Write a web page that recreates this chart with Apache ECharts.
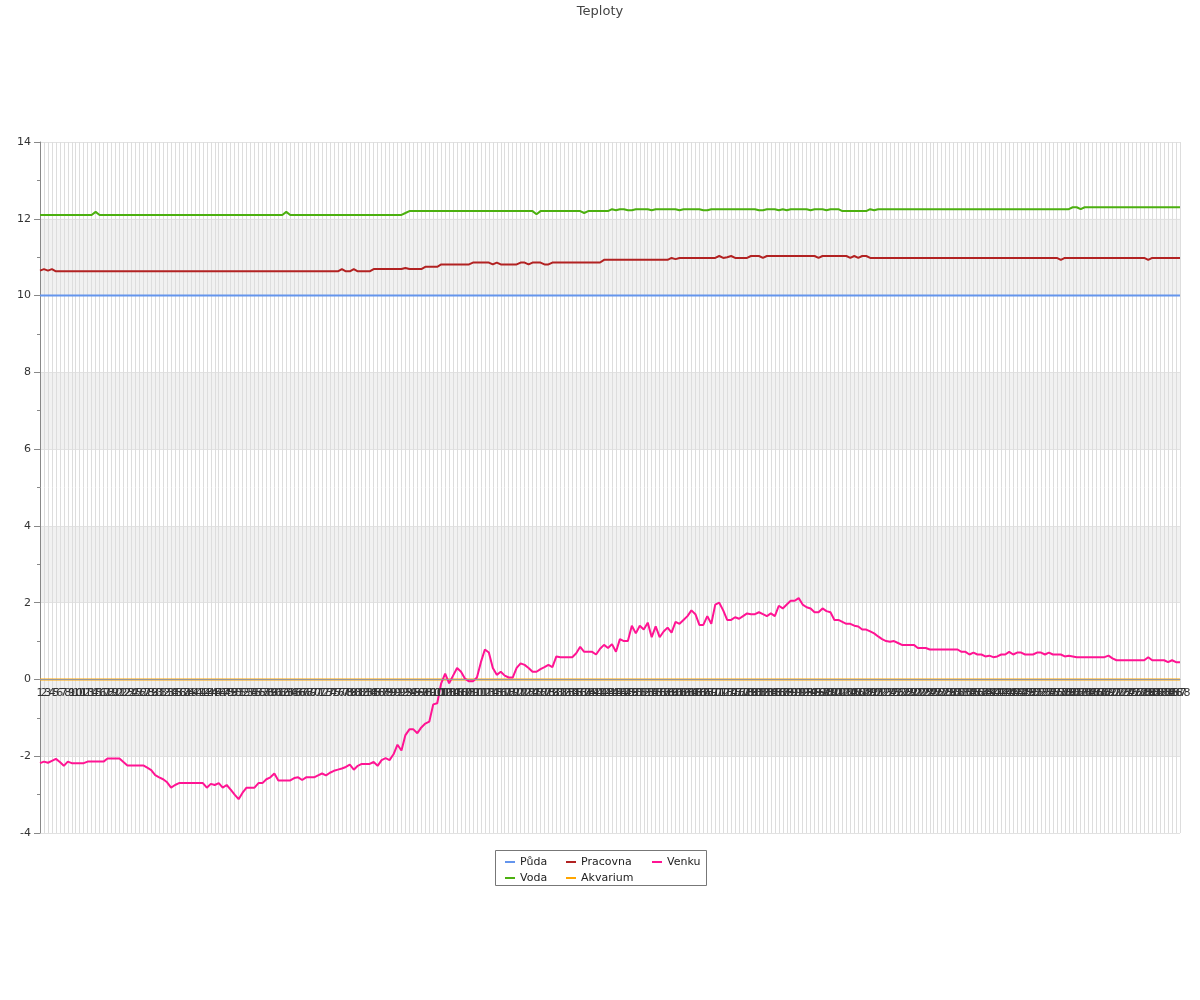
<!DOCTYPE html>
<html>
<head>
<meta charset="utf-8">
<script src="https://cdn.jsdelivr.net/npm/echarts@6/dist/echarts.min.js"></script>
<style>html,body{margin:0;padding:0;background:#fff}#c{width:1200px;height:1000px}</style>
</head>
<body>
<div id="c"></div>
<script>
const title = 'Teploty';
const seriesNames = ['Půda', 'Voda', 'Pracovna', 'Akvarium', 'Venku'];
const categories = [];
for (let k = 1; k <= 288; k++) categories.push(String(k));

const puda = [
10,10,10,10,10,10,10,10,10,10, 10,10,10,10,10,10,10,10,10,10,
10,10,10,10,10,10,10,10,10,10, 10,10,10,10,10,10,10,10,10,10,
10,10,10,10,10,10,10,10,10,10, 10,10,10,10,10,10,10,10,10,10,
10,10,10,10,10,10,10,10,10,10, 10,10,10,10,10,10,10,10,10,10,
10,10,10,10,10,10,10,10,10,10, 10,10,10,10,10,10,10,10,10,10,
10,10,10,10,10,10,10,10,10,10, 10,10,10,10,10,10,10,10,10,10,
10,10,10,10,10,10,10,10,10,10, 10,10,10,10,10,10,10,10,10,10,
10,10,10,10,10,10,10,10,10,10, 10,10,10,10,10,10,10,10,10,10,
10,10,10,10,10,10,10,10,10,10, 10,10,10,10,10,10,10,10,10,10,
10,10,10,10,10,10,10,10,10,10, 10,10,10,10,10,10,10,10,10,10,
10,10,10,10,10,10,10,10,10,10, 10,10,10,10,10,10,10,10,10,10,
10,10,10,10,10,10,10,10,10,10, 10,10,10,10,10,10,10,10,10,10,
10,10,10,10,10,10,10,10,10,10, 10,10,10,10,10,10,10,10,10,10,
10,10,10,10,10,10,10,10,10,10, 10,10,10,10,10,10,10,10,10,10,
10,10,10,10,10,10,10,10
];

const voda = [
12.1,12.1,12.1,12.1,12.1,12.1,12.1,12.1,12.1,12.1,
12.1,12.1,12.1,12.1,12.18,12.1,12.1,12.1,12.1,12.1,
12.1,12.1,12.1,12.1,12.1,12.1,12.1,12.1,12.1,12.1,
12.1,12.1,12.1,12.1,12.1,12.1,12.1,12.1,12.1,12.1,
12.1,12.1,12.1,12.1,12.1,12.1,12.1,12.1,12.1,12.1,
12.1,12.1,12.1,12.1,12.1,12.1,12.1,12.1,12.1,12.1,
12.1,12.1,12.18,12.1,12.1,12.1,12.1,12.1,12.1,12.1,
12.1,12.1,12.1,12.1,12.1,12.1,12.1,12.1,12.1,12.1,
12.1,12.1,12.1,12.1,12.1,12.1,12.1,12.1,12.1,12.1,
12.1,12.1,12.15,12.2,12.2,12.2,12.2,12.2,12.2,12.2,
12.2,12.2,12.2,12.2,12.2,12.2,12.2,12.2,12.2,12.2,
12.2,12.2,12.2,12.2,12.2,12.2,12.2,12.2,12.2,12.2,
12.2,12.2,12.2,12.2,12.2,12.12,12.2,12.2,12.2,12.2,
12.2,12.2,12.2,12.2,12.2,12.2,12.2,12.15,12.2,12.2,
12.2,12.2,12.2,12.2,12.25,12.22,12.25,12.25,12.22,12.22,
12.25,12.25,12.25,12.25,12.22,12.25,12.25,12.25,12.25,12.25,
12.25,12.22,12.25,12.25,12.25,12.25,12.25,12.22,12.22,12.25,
12.25,12.25,12.25,12.25,12.25,12.25,12.25,12.25,12.25,12.25,
12.25,12.22,12.22,12.25,12.25,12.25,12.22,12.25,12.22,12.25,
12.25,12.25,12.25,12.25,12.22,12.25,12.25,12.25,12.22,12.25,
12.25,12.25,12.2,12.2,12.2,12.2,12.2,12.2,12.2,12.25,
12.22,12.25,12.25,12.25,12.25,12.25,12.25,12.25,12.25,12.25,
12.25,12.25,12.25,12.25,12.25,12.25,12.25,12.25,12.25,12.25,
12.25,12.25,12.25,12.25,12.25,12.25,12.25,12.25,12.25,12.25,
12.25,12.25,12.25,12.25,12.25,12.25,12.25,12.25,12.25,12.25,
12.25,12.25,12.25,12.25,12.25,12.25,12.25,12.25,12.25,12.25,
12.3,12.3,12.25,12.3,12.3,12.3,12.3,12.3,12.3,12.3,
12.3,12.3,12.3,12.3,12.3,12.3,12.3,12.3,12.3,12.3,
12.3,12.3,12.3,12.3,12.3,12.3,12.3,12.3
];

const pracovna = [
10.65,10.69,10.65,10.69,10.63,10.63,10.63,10.63,10.63,10.63,
10.63,10.63,10.63,10.63,10.63,10.63,10.63,10.63,10.63,10.63,
10.63,10.63,10.63,10.63,10.63,10.63,10.63,10.63,10.63,10.63,
10.63,10.63,10.63,10.63,10.63,10.63,10.63,10.63,10.63,10.63,
10.63,10.63,10.63,10.63,10.63,10.63,10.63,10.63,10.63,10.63,
10.63,10.63,10.63,10.63,10.63,10.63,10.63,10.63,10.63,10.63,
10.63,10.63,10.63,10.63,10.63,10.63,10.63,10.63,10.63,10.63,
10.63,10.63,10.63,10.63,10.63,10.63,10.69,10.63,10.63,10.69,
10.63,10.63,10.63,10.63,10.69,10.69,10.69,10.69,10.69,10.69,
10.69,10.69,10.72,10.69,10.69,10.69,10.69,10.75,10.75,10.75,
10.75,10.81,10.81,10.81,10.81,10.81,10.81,10.81,10.81,10.86,
10.86,10.86,10.86,10.86,10.81,10.86,10.81,10.81,10.81,10.81,
10.81,10.86,10.86,10.81,10.86,10.86,10.86,10.81,10.81,10.86,
10.86,10.86,10.86,10.86,10.86,10.86,10.86,10.86,10.86,10.86,
10.86,10.86,10.93,10.93,10.93,10.93,10.93,10.93,10.93,10.93,
10.93,10.93,10.93,10.93,10.93,10.93,10.93,10.93,10.93,10.98,
10.95,10.98,10.98,10.98,10.98,10.98,10.98,10.98,10.98,10.98,
10.98,11.03,10.98,11.0,11.03,10.98,10.98,10.98,10.98,11.03,
11.03,11.03,10.98,11.03,11.03,11.03,11.03,11.03,11.03,11.03,
11.03,11.03,11.03,11.03,11.03,11.03,10.98,11.03,11.03,11.03,
11.03,11.03,11.03,11.03,10.98,11.03,10.98,11.03,11.03,10.98,
10.98,10.98,10.98,10.98,10.98,10.98,10.98,10.98,10.98,10.98,
10.98,10.98,10.98,10.98,10.98,10.98,10.98,10.98,10.98,10.98,
10.98,10.98,10.98,10.98,10.98,10.98,10.98,10.98,10.98,10.98,
10.98,10.98,10.98,10.98,10.98,10.98,10.98,10.98,10.98,10.98,
10.98,10.98,10.98,10.98,10.98,10.98,10.98,10.93,10.98,10.98,
10.98,10.98,10.98,10.98,10.98,10.98,10.98,10.98,10.98,10.98,
10.98,10.98,10.98,10.98,10.98,10.98,10.98,10.98,10.98,10.93,
10.98,10.98,10.98,10.98,10.98,10.98,10.98,10.98
];

const akvarium = [
0,0,0,0,0,0,0,0,0,0, 0,0,0,0,0,0,0,0,0,0, 0,0,0,0,0,0,0,0,0,0,
0,0,0,0,0,0,0,0,0,0, 0,0,0,0,0,0,0,0,0,0, 0,0,0,0,0,0,0,0,0,0,
0,0,0,0,0,0,0,0,0,0, 0,0,0,0,0,0,0,0,0,0, 0,0,0,0,0,0,0,0,0,0,
0,0,0,0,0,0,0,0,0,0, 0,0,0,0,0,0,0,0,0,0, 0,0,0,0,0,0,0,0,0,0,
0,0,0,0,0,0,0,0,0,0, 0,0,0,0,0,0,0,0,0,0, 0,0,0,0,0,0,0,0,0,0,
0,0,0,0,0,0,0,0,0,0, 0,0,0,0,0,0,0,0,0,0, 0,0,0,0,0,0,0,0,0,0,
0,0,0,0,0,0,0,0,0,0, 0,0,0,0,0,0,0,0,0,0, 0,0,0,0,0,0,0,0,0,0,
0,0,0,0,0,0,0,0,0,0, 0,0,0,0,0,0,0,0,0,0, 0,0,0,0,0,0,0,0,0,0,
0,0,0,0,0,0,0,0,0,0, 0,0,0,0,0,0,0,0,0,0, 0,0,0,0,0,0,0,0,0,0,
0,0,0,0,0,0,0,0,0,0, 0,0,0,0,0,0,0,0
];

const venku = [
-2.18,-2.14,-2.17,-2.12,-2.07,-2.15,-2.25,-2.14,-2.18,-2.18,
-2.18,-2.18,-2.14,-2.14,-2.14,-2.14,-2.14,-2.06,-2.06,-2.06,
-2.06,-2.15,-2.24,-2.24,-2.24,-2.24,-2.24,-2.3,-2.36,-2.49,
-2.55,-2.6,-2.68,-2.82,-2.75,-2.7,-2.7,-2.7,-2.7,-2.7,
-2.7,-2.7,-2.82,-2.72,-2.75,-2.7,-2.82,-2.75,-2.87,-3.0,
-3.12,-2.95,-2.82,-2.82,-2.82,-2.7,-2.7,-2.6,-2.55,-2.45,
-2.63,-2.63,-2.63,-2.63,-2.57,-2.55,-2.62,-2.55,-2.55,-2.55,
-2.5,-2.45,-2.5,-2.43,-2.38,-2.35,-2.32,-2.28,-2.22,-2.35,
-2.25,-2.2,-2.2,-2.2,-2.15,-2.25,-2.1,-2.05,-2.1,-1.95,
-1.7,-1.85,-1.45,-1.3,-1.3,-1.4,-1.25,-1.15,-1.1,-0.65,
-0.62,-0.1,0.15,-0.1,0.1,0.3,0.2,0.02,-0.05,-0.05,
0.05,0.45,0.78,0.7,0.3,0.12,0.2,0.1,0.05,0.05,
0.3,0.42,0.38,0.3,0.2,0.2,0.27,0.32,0.38,0.32,
0.6,0.58,0.58,0.58,0.58,0.68,0.85,0.72,0.72,0.72,
0.65,0.8,0.9,0.82,0.92,0.72,1.05,1.0,1.0,1.4,
1.2,1.4,1.3,1.48,1.1,1.38,1.1,1.25,1.35,1.22,
1.5,1.45,1.55,1.65,1.8,1.7,1.42,1.42,1.65,1.45,
1.95,2.0,1.8,1.55,1.55,1.62,1.58,1.65,1.72,1.7,
1.7,1.75,1.7,1.65,1.72,1.65,1.92,1.85,1.95,2.05,
2.05,2.12,1.95,1.88,1.85,1.75,1.75,1.85,1.78,1.75,
1.55,1.55,1.5,1.45,1.45,1.4,1.38,1.3,1.3,1.25,
1.2,1.12,1.05,1.0,0.98,1.0,0.95,0.9,0.9,0.9,
0.9,0.82,0.82,0.82,0.78,0.78,0.78,0.78,0.78,0.78,
0.78,0.78,0.72,0.72,0.65,0.7,0.65,0.65,0.6,0.62,
0.58,0.6,0.65,0.65,0.72,0.65,0.7,0.7,0.65,0.65,
0.65,0.7,0.7,0.65,0.7,0.65,0.65,0.65,0.6,0.62,
0.6,0.58,0.58,0.58,0.58,0.58,0.58,0.58,0.58,0.62,
0.55,0.5,0.5,0.5,0.5,0.5,0.5,0.5,0.5,0.58,
0.5,0.5,0.5,0.5,0.45,0.5,0.45,0.45
];

const colors = {
  'Půda': '#6495ED',
  'Voda': '#4CB010',
  'Pracovna': '#B22222',
  'Akvarium': '#FFA500',
  'Venku': '#FF1493'
};
const dataMap = { 'Půda': puda, 'Voda': voda, 'Pracovna': pracovna, 'Akvarium': akvarium, 'Venku': venku };

const FONT = 'DejaVu Sans';
const chart = echarts.init(document.getElementById('c'), null, { renderer: 'canvas' });

function legendCol(names, left) {
  return {
    orient: 'vertical',
    left: left,
    top: 855,
    padding: 0,
    itemGap: 2,
    itemWidth: 10,
    itemHeight: 2,
    icon: 'rect',
    selectedMode: false,
    textStyle: { fontFamily: FONT, fontSize: 11, color: '#222', lineHeight: 14, padding: [0, 0, 0, 0] },
    data: names.map(n => ({ name: n, itemStyle: { color: colors[n] } }))
  };
}

const GRID_TOP = 142, GRID_BOTTOM = 167, Y_MIN = -4, Y_MAX = 14;
const gridH = 1000 - GRID_TOP - GRID_BOTTOM;
const zeroOffset = -gridH * (0 - Y_MIN) / (Y_MAX - Y_MIN);

chart.setOption({
  animation: false,
  backgroundColor: '#fff',
  title: {
    text: title,
    left: 'center',
    top: 0,
    textStyle: { fontFamily: FONT, fontSize: 13, fontWeight: 'normal', color: '#444' }
  },
  legend: [
    legendCol(['Půda', 'Voda'], 505),
    legendCol(['Pracovna', 'Akvarium'], 566),
    legendCol(['Venku'], 652)
  ],
  graphic: [{
    type: 'rect',
    shape: { x: 495.5, y: 850.5, width: 211, height: 35 },
    style: { fill: 'none', stroke: '#777', lineWidth: 1 },
    silent: true
  }],
  grid: { left: 40, right: 20, top: GRID_TOP, bottom: GRID_BOTTOM },
  xAxis: [{
    type: 'category',
    data: categories,
    boundaryGap: false,
    position: 'bottom',
    axisLine: { show: false },
    axisTick: { show: false },
    axisLabel: { show: false },
    splitLine: { show: true, interval: 0, lineStyle: { color: '#dddddd', width: 1 } }
  }, {
    type: 'category',
    data: categories,
    boundaryGap: false,
    position: 'bottom',
    offset: zeroOffset,
    z: 5,
    axisLine: { show: true, onZero: false, lineStyle: { color: '#999', width: 1 } },
    axisTick: { show: false },
    axisLabel: { interval: 0, fontFamily: FONT, fontSize: 11, color: '#333', margin: 8, hideOverlap: false },
    splitLine: { show: false },
    splitArea: { show: false }
  }],
  yAxis: {
    type: 'value',
    min: Y_MIN,
    max: Y_MAX,
    interval: 2,
    axisLine: { show: true, lineStyle: { color: '#888' } },
    axisTick: { show: true, length: 6, lineStyle: { color: '#888' } },
    minorTick: { show: true, splitNumber: 2, length: 3, lineStyle: { color: '#888' } },
    axisLabel: { fontFamily: FONT, fontSize: 11, color: '#333', margin: 9 },
    splitLine: { show: true, lineStyle: { color: '#e2e2e2' } },
    splitArea: { show: true, areaStyle: { color: ['rgba(255,255,255,0)', 'rgba(0,0,0,0.055)'] } }
  },
  series: seriesNames.map(n => ({
    name: n,
    type: 'line',
    xAxisIndex: 0,
    data: dataMap[n],
    showSymbol: false,
    symbol: 'none',
    smooth: false,
    color: colors[n],
    lineStyle: { width: 2, color: colors[n] },
    z: 3
  }))
});
</script>
</body>
</html>
